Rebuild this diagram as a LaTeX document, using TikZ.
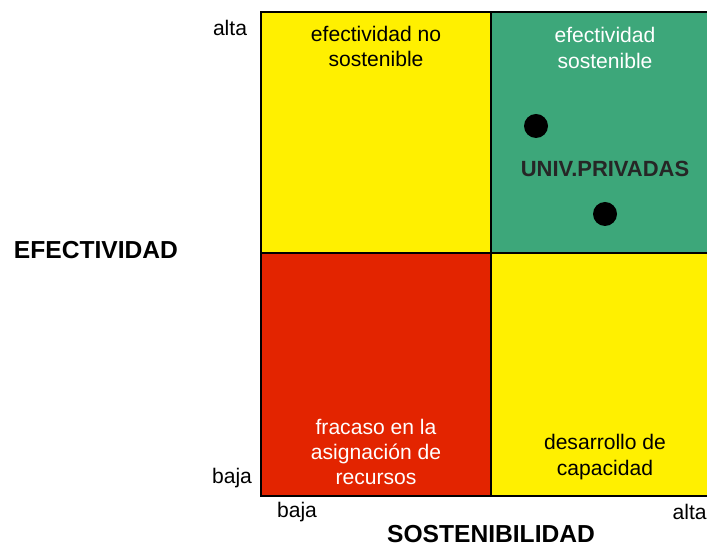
\documentclass[tikz,border=0pt]{standalone}
\usepackage{fontspec}
\setmainfont{Liberation Sans}
\definecolor{quadyellow}{HTML}{FFF000}
\definecolor{quadgreen}{HTML}{3DA77A}
\definecolor{quadred}{HTML}{E32400}

\begin{document}
\begin{tikzpicture}[
    quadtext/.style={align=center, font=\fontsize{12}{14.4}\selectfont},
    axistitle/.style={font=\fontsize{14}{16}\selectfont\bfseries},
    ticklabel/.style={font=\fontsize{12}{14.4}\selectfont}
  ]
        \useasboundingbox (0,0) rectangle (14.14,10.94);

        % Quadrants
        \fill[quadyellow] (5.22,5.88) rectangle (9.82,10.70);
        \fill[quadgreen] (9.82,5.88) rectangle (14.14,10.70);
        \fill[quadred] (5.22,1.02) rectangle (9.82,5.88);
        \fill[quadyellow] (9.82,1.02) rectangle (14.14,5.88);

        % Grid lines
        \draw[line width=1.1pt] (14.14,10.70) -- (5.22,10.70) -- (5.22,1.02) -- (14.14,1.02);
        \draw[line width=1.1pt] (9.82,10.70) -- (9.82,1.02);
        \draw[line width=1.1pt] (5.22,5.88) -- (14.14,5.88);

        % Quadrant labels
        \node[quadtext] (noSost) at (7.52,10.01) {efectividad no\\sostenible};
        \node[quadtext, text=white] (sost) at (12.10,9.98) {efectividad\\sostenible};
        \node[quadtext, text=white] (fracaso) at (7.52,1.90) {fracaso en la\\asignación de\\recursos};
        \node[quadtext] (desarrollo) at (12.10,1.80) {desarrollo de\\capacidad};

        % Private universities
        \foreach \x/\y in {10.72/8.42, 12.10/6.66} {
          \fill[black] (\x,\y) circle (0.24);
        }
        \node[font=\fontsize{12.5}{15}\selectfont\bfseries, text=black!85] (univ) at (12.10,7.56) {UNIV.PRIVADAS};

        % Axis labels
        \node[ticklabel] (efAlta) at (4.60,10.38) {alta};
        \node[ticklabel] (efBaja) at (4.64,1.38) {baja};
        \node[ticklabel] (soBaja) at (5.94,0.70) {baja};
        \node[ticklabel, anchor=east, inner sep=0pt] (soAlta) at (14.14,0.70) {alta};
        \node[axistitle] (efect) at (1.92,5.94) {EFECTIVIDAD};
        \node[axistitle, anchor=base] (sostTitle) at (9.82,0.08) {SOSTENIBILIDAD};
      \end{tikzpicture}
\end{document}
